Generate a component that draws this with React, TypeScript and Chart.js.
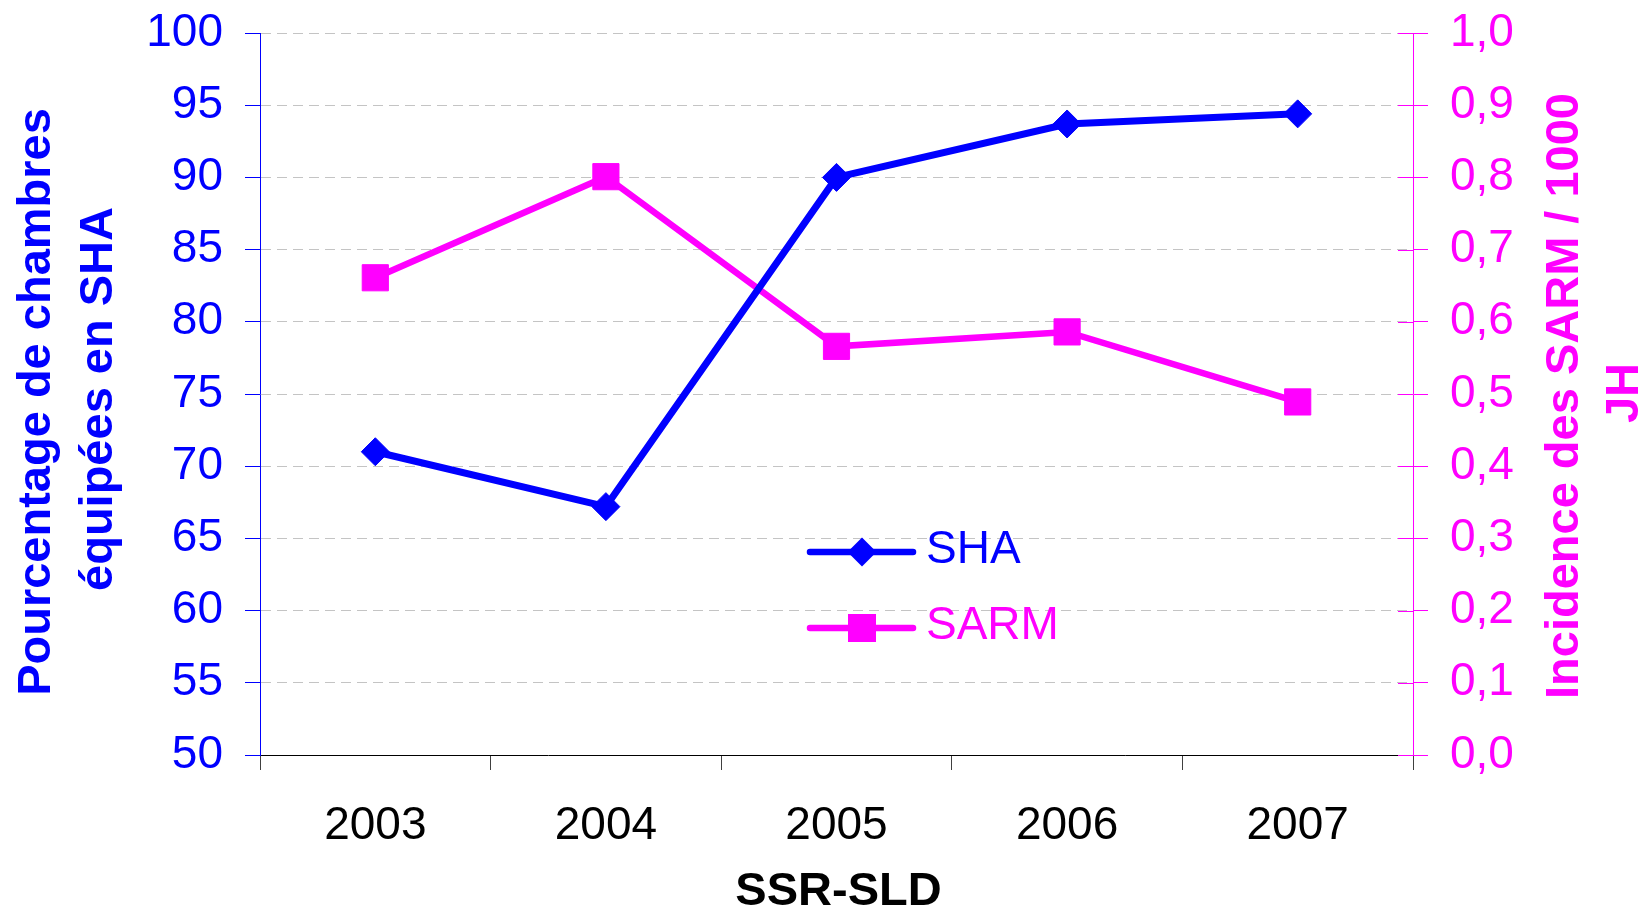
import React, { useEffect, useRef } from "react";
import { Chart, registerables } from "chart.js";

Chart.register(...registerables);

const categories = ["2003", "2004", "2005", "2006", "2007"];
const shaValues = [71.0, 67.2, 90.0, 93.7, 94.4];
const sarmValues = [0.661, 0.801, 0.566, 0.586, 0.489];
const seriesNames = ["SHA", "SARM"];
const leftTitle = ["Pourcentage de chambres", "équipées en SHA"];
const rightTitle = ["Incidence des SARM / 1000", "JH"];
const xTitle = "SSR-SLD";

const BLUE = "#0000FF";
const MAGENTA = "#FF00FF";
const FONT = "'Liberation Sans', Arial, Helvetica, sans-serif";

const decorPlugin = {
  id: "decor",
  afterDraw(chart: any) {
    const { ctx, chartArea } = chart;
    const y1 = chart.scales.y1;
    ctx.save();

    // inner half of the right-axis tick marks
    ctx.strokeStyle = MAGENTA;
    ctx.lineWidth = 1;
    y1.ticks.forEach((_t: any, i: number) => {
      const py = Math.round(y1.getPixelForTick(i)) + 0.5;
      ctx.beginPath();
      ctx.moveTo(chartArea.right - 15, py);
      ctx.lineTo(chartArea.right, py);
      ctx.stroke();
    });

    // axis titles
    ctx.font = `bold 47px ${FONT}`;
    ctx.textAlign = "center";
    ctx.textBaseline = "alphabetic";

    ctx.fillStyle = BLUE;
    const leftBase = [50, 112];
    const leftMid = [402, 399];
    leftTitle.forEach((line, i) => {
      ctx.save();
      ctx.translate(leftBase[i], leftMid[i]);
      ctx.rotate(-Math.PI / 2);
      ctx.fillText(line, 0, 0);
      ctx.restore();
    });

    ctx.fillStyle = MAGENTA;
    const rightBase = [1578, 1638];
    const rightMid = [396, 393];
    rightTitle.forEach((line, i) => {
      ctx.save();
      ctx.translate(rightBase[i], rightMid[i]);
      ctx.rotate(-Math.PI / 2);
      ctx.fillText(line, 0, 0);
      ctx.restore();
    });

    ctx.fillStyle = "#000000";
    ctx.fillText(xTitle, (chartArea.left + chartArea.right) / 2 + 2, 905);

    // legend
    const rows = [552, 628];
    const textBase = [563, 639];
    chart.data.datasets.forEach((ds: any, i: number) => {
      const y = rows[i];
      const color = ds.borderColor;
      ctx.strokeStyle = color;
      ctx.fillStyle = color;
      ctx.lineWidth = 6.5;
      ctx.lineCap = "round";
      ctx.beginPath();
      ctx.moveTo(810, y);
      ctx.lineTo(913, y);
      ctx.stroke();
      const cx = 862;
      ctx.beginPath();
      if (ds.pointStyle === "rectRot") {
        const r = 14.5;
        ctx.moveTo(cx - r, y);
        ctx.lineTo(cx, y - r);
        ctx.lineTo(cx + r, y);
        ctx.lineTo(cx, y + r);
        ctx.closePath();
      } else {
        const s = 14;
        ctx.rect(cx - s, y - s, 2 * s, 2 * s);
      }
      ctx.fill();
      ctx.font = `46px ${FONT}`;
      ctx.textAlign = "left";
      ctx.textBaseline = "alphabetic";
      ctx.fillText(ds.label, 926, textBase[i]);
    });

    ctx.restore();
  },
};

export default function App() {
  const canvasRef = useRef<HTMLCanvasElement | null>(null);

  useEffect(() => {
    if (!canvasRef.current) return;
    const chart = new Chart(canvasRef.current, {
      type: "line",
      data: {
        labels: categories,
        datasets: [
          {
            label: seriesNames[0],
            data: shaValues,
            yAxisID: "y",
            borderColor: BLUE,
            backgroundColor: BLUE,
            borderWidth: 7,
            pointStyle: "rectRot",
            pointRadius: 14,
            pointBorderWidth: 1,
            pointBackgroundColor: BLUE,
            pointBorderColor: BLUE,
            tension: 0,
            fill: false,
          },
          {
            label: seriesNames[1],
            data: sarmValues,
            yAxisID: "y1",
            borderColor: MAGENTA,
            backgroundColor: MAGENTA,
            borderWidth: 6.5,
            pointStyle: "rect",
            pointRadius: 18.5,
            pointBorderWidth: 1,
            pointBackgroundColor: MAGENTA,
            pointBorderColor: MAGENTA,
            tension: 0,
            fill: false,
          },
        ],
      },
      options: {
        responsive: false,
        animation: false,
        events: [],
        layout: { padding: { top: 33, left: 0, right: 0, bottom: 0 } },
        plugins: {
          legend: { display: false },
          tooltip: { enabled: false },
          title: { display: false },
        },
        scales: {
          x: {
            type: "category",
            offset: true,
            grid: {
              offset: true,
              drawOnChartArea: false,
              drawTicks: true,
              tickLength: 15,
              tickColor: "#404040",
              color: "#404040",
            },
            border: { color: "#000000", width: 1 },
            ticks: {
              color: "#000000",
              font: { family: FONT, size: 46 },
              padding: 29,
              maxRotation: 0,
              autoSkip: false,
            },
            afterFit: (s: any) => {
              s.height = 152;
              s.paddingLeft = 0;
              s.paddingRight = 0;
            },
          },
          y: {
            type: "linear",
            position: "left",
            min: 50,
            max: 100,
            ticks: {
              stepSize: 5,
              color: BLUE,
              font: { family: FONT, size: 46 },
              padding: 22,
            },
            grid: {
              color: "#c4c4c4",
              lineWidth: 1,
              tickColor: BLUE,
              tickLength: 15,
              tickBorderDash: [],
            },
            border: { color: BLUE, width: 1, dash: [10, 6] },
            afterFit: (s: any) => {
              s.width = 260;
              s.paddingTop = 0;
              s.paddingBottom = 0;
            },
          },
          y1: {
            type: "linear",
            position: "right",
            min: 0,
            max: 1,
            ticks: {
              stepSize: 0.1,
              color: MAGENTA,
              font: { family: FONT, size: 46 },
              padding: 22,
              callback: (v: any) => Number(v).toFixed(1).replace(".", ","),
            },
            grid: {
              drawOnChartArea: false,
              tickColor: MAGENTA,
              color: MAGENTA,
              tickLength: 15,
            },
            border: { color: MAGENTA, width: 1 },
            afterFit: (s: any) => {
              s.width = 228;
              s.paddingTop = 0;
              s.paddingBottom = 0;
            },
          },
        },
      },
      plugins: [decorPlugin],
    });
    return () => chart.destroy();
  }, []);

  return (
    <div style={{ position: "absolute", left: 0, top: 0, width: 1641, height: 907, background: "#fff" }}>
      <canvas ref={canvasRef} width={1641} height={907} style={{ display: "block" }} />
    </div>
  );
}
